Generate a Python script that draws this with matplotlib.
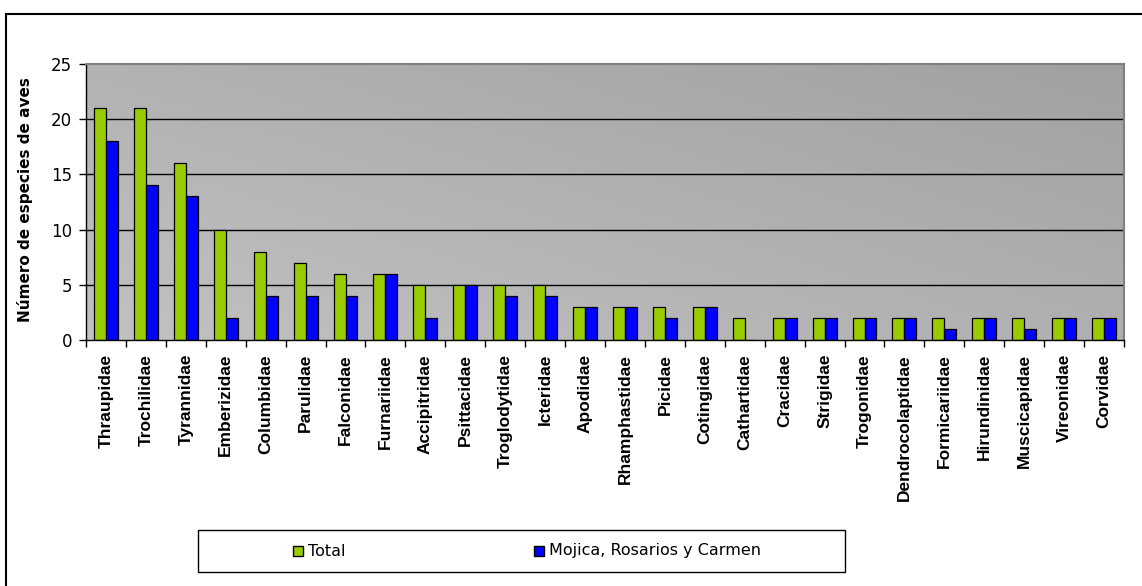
import matplotlib
matplotlib.use("Agg")
import matplotlib.pyplot as plt
import numpy as np
from matplotlib.patches import Rectangle
from matplotlib.lines import Line2D

families = ["Thraupidae", "Trochilidae", "Tyrannidae", "Emberizidae", "Columbidae",
            "Parulidae", "Falconidae", "Furnariidae", "Accipitridae", "Psittacidae",
            "Troglodytidae", "Icteridae", "Apodidae", "Rhamphastidae", "Picidae",
            "Cotingidae", "Cathartidae", "Cracidae", "Strigidae", "Trogonidae",
            "Dendrocolaptidae", "Formicariidae", "Hirundinidae", "Muscicapidae",
            "Vireonidae", "Corvidae"]
total = [21, 21, 16, 10, 8, 7, 6, 6, 5, 5, 5, 5, 3, 3, 3, 3, 2, 2, 2, 2, 2, 2, 2, 2, 2, 2]
mojica = [18, 14, 13, 2, 4, 4, 4, 6, 2, 5, 4, 4, 3, 3, 2, 3, 0, 2, 2, 2, 2, 1, 2, 1, 2, 2]
series_names = ["Total", "Mojica, Rosarios y Carmen"]
series_colors = ["#99CC00", "#0000FF"]
yticks = [0, 5, 10, 15, 20, 25]

W, H = 1142, 586
fig = plt.figure(figsize=(W / 100, H / 100), dpi=100)
fig.patch.set_facecolor("white")


def fx(px):
    return px / W


def fy(py):
    return 1 - py / H


left, right, top, bottom = 86, 1124, 64, 340
ax = fig.add_axes([fx(left), fy(bottom), (right - left) / W, (bottom - top) / H])

n = len(families)
x = np.arange(n)
ax.set_xlim(-0.5, n - 0.5)
ax.set_ylim(0, 25)

# gradient background (darker toward upper right)
gx, gy = np.meshgrid(np.linspace(0, 1, 200), np.linspace(0, 1, 100))
val = 0.76 - 0.07 * gx - 0.06 * gy
ax.imshow(np.dstack([val, val, val]), extent=(0, 1, 0, 1), transform=ax.transAxes,
          aspect="auto", zorder=0, interpolation="bilinear", origin="lower")

for t in yticks[1:-1]:
    ax.axhline(t, color="black", lw=1.0, zorder=1)

w = 0.3
ax.bar(x - w / 2, total, width=w, color=series_colors[0], edgecolor="black",
       linewidth=0.9, zorder=2)
ax.bar(x + w / 2, mojica, width=w, color=series_colors[1], edgecolor="black",
       linewidth=0.9, zorder=2)

ax.set_yticks(yticks)
ax.set_yticklabels([str(t) for t in yticks], fontsize=12, family="DejaVu Sans")
ax.tick_params(axis="y", direction="out", length=5, width=1, pad=5)

ax.set_xticks(np.arange(n + 1) - 0.5, minor=False)
ax.set_xticklabels([])
ax.set_xticks(x, minor=True)
ax.set_xticklabels(families, minor=True, rotation=90, fontsize=12.5, fontweight="bold",
                   family="Liberation Sans", va="top")
ax.tick_params(axis="x", which="major", direction="out", length=5, width=1)
ax.tick_params(axis="x", which="minor", length=0, pad=10)

for s in ["left", "bottom"]:
    ax.spines[s].set_color("black")
    ax.spines[s].set_linewidth(1)
for s in ["top", "right"]:
    ax.spines[s].set_color("#808080")
    ax.spines[s].set_linewidth(1.5)

fig.text(fx(25), fy(200), "Número de especies de aves", rotation=90, fontsize=11,
         fontweight="bold", family="DejaVu Sans", ha="center", va="center")

# outer frame
fig.add_artist(Line2D([fx(6), fx(6)], [0, fy(14)], color="black", lw=1.5,
                      transform=fig.transFigure))
fig.add_artist(Line2D([fx(6), 1], [fy(14), fy(14)], color="black", lw=1.5,
                      transform=fig.transFigure))

# legend (drawn as a box with swatches)
fig.add_artist(Rectangle((fx(198), fy(572)), (845 - 198) / W, 42 / H,
                         transform=fig.transFigure, facecolor="white",
                         edgecolor="black", lw=1.0))
leg_x = [293, 534]
for lx, name, col in zip(leg_x, series_names, series_colors):
    fig.add_artist(Rectangle((fx(lx), fy(556)), 10 / W, 10 / H,
                             transform=fig.transFigure, facecolor=col,
                             edgecolor="black", lw=1.0))
    fig.text(fx(lx + 15), fy(551), name, fontsize=11.5, family="DejaVu Sans",
             ha="left", va="center")

fig.savefig("out.png", dpi=100)
